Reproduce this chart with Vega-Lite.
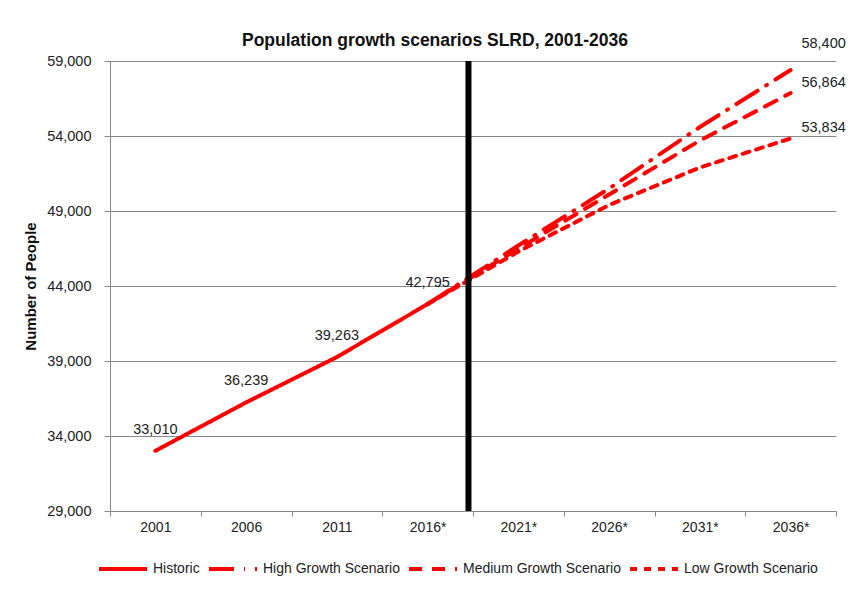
{
  "$schema": "https://vega.github.io/schema/vega-lite/v6.json",
  "autosize": "none",
  "width": 726,
  "height": 450,
  "padding": {"left": 110, "top": 61, "right": 18, "bottom": 84},
  "background": "white",
  "config": {
    "font": "Liberation Sans",
    "view": {"stroke": null},
    "axis": {"labelFont": "Liberation Sans", "labelFontSize": 14, "labelColor": "#222", "domainColor": "#888", "tickColor": "#888", "gridColor": "#888", "gridOpacity": 1}
  },
  "title": {"text": "Population growth scenarios SLRD, 2001-2036", "font": "Liberation Sans", "fontSize": 17.5, "fontWeight": "bold", "color": "#111", "frame": "group", "offset": 14, "dy": 27, "dx": -38},
  "data": {"values": [
    {"series": "Historic", "year": "2001", "value": 33010},
    {"series": "Historic", "year": "2006", "value": 36239},
    {"series": "Historic", "year": "2011", "value": 39263},
    {"series": "Historic", "year": "2016*", "value": 42795},
    {"series": "High Growth Scenario", "year": "2016*", "value": 42795},
    {"series": "High Growth Scenario", "year": "2021*", "value": 46700},
    {"series": "High Growth Scenario", "year": "2026*", "value": 50500},
    {"series": "High Growth Scenario", "year": "2031*", "value": 54600},
    {"series": "High Growth Scenario", "year": "2036*", "value": 58400},
    {"series": "Medium Growth Scenario", "year": "2016*", "value": 42795},
    {"series": "Medium Growth Scenario", "year": "2021*", "value": 46500},
    {"series": "Medium Growth Scenario", "year": "2026*", "value": 50100},
    {"series": "Medium Growth Scenario", "year": "2031*", "value": 53700},
    {"series": "Medium Growth Scenario", "year": "2036*", "value": 56864},
    {"series": "Low Growth Scenario", "year": "2016*", "value": 42795},
    {"series": "Low Growth Scenario", "year": "2021*", "value": 46300},
    {"series": "Low Growth Scenario", "year": "2026*", "value": 49400},
    {"series": "Low Growth Scenario", "year": "2031*", "value": 51900},
    {"series": "Low Growth Scenario", "year": "2036*", "value": 53834}
  ]},
  "encoding": {
    "x": {"field": "year", "type": "ordinal", "bandPosition": 0.5,
      "scale": {"type": "band", "domain": ["2001", "2006", "2011", "2016*", "2021*", "2026*", "2031*", "2036*"], "paddingInner": 0, "paddingOuter": 0},
      "axis": {"title": null, "labelAngle": 0, "tickBand": "extent", "tickSize": 5, "labelPadding": 4, "grid": false, "domainColor": "#888"}},
    "y": {"field": "value", "type": "quantitative",
      "scale": {"domain": [29000, 59000], "nice": false, "zero": false},
      "axis": {"title": "Number of People", "titleFont": "Liberation Sans", "titleFontSize": 15, "titleFontWeight": "bold", "titleColor": "#111", "titlePadding": 8, "values": [29000, 34000, 39000, 44000, 49000, 54000, 59000], "format": ",.0f", "labelFontSize": 14.5, "tickSize": 6, "labelPadding": 13, "grid": true}}
  },
  "layer": [
    {
      "mark": {"type": "line", "color": "#ff0000", "strokeWidth": 4, "strokeCap": "round"},
      "encoding": {
        "strokeDash": {"field": "series", "type": "nominal",
          "scale": {"domain": ["Historic", "High Growth Scenario", "Medium Growth Scenario", "Low Growth Scenario"], "range": [[1, 0], [25, 10, 1, 10], [13, 10], [7, 7]]},
          "legend": {"title": null, "orient": "none", "legendX": -13, "legendY": 482, "direction": "horizontal", "symbolType": "stroke", "symbolSize": 2304, "symbolStrokeWidth": 4, "symbolStrokeColor": "#ff0000", "labelFont": "Liberation Sans", "labelFontSize": 14, "labelColor": "#222", "labelOffset": 4, "labelLimit": 0, "columnPadding": 1}}
      }
    },
    {
      "transform": [{"filter": "datum.series == 'Historic'"}],
      "mark": {"type": "text", "dy": -21, "fontSize": 14.5, "color": "#222", "font": "Liberation Sans"},
      "encoding": {"text": {"field": "value", "type": "quantitative", "format": ","}}
    },
    {
      "transform": [{"filter": "datum.year == '2036*' && datum.series == 'High Growth Scenario'"}],
      "mark": {"type": "text", "dx": 33, "dy": -26, "fontSize": 14.5, "color": "#222", "font": "Liberation Sans"},
      "encoding": {"text": {"field": "value", "type": "quantitative", "format": ","}}
    },
    {
      "transform": [{"filter": "datum.year == '2036*' && datum.series != 'High Growth Scenario'"}],
      "mark": {"type": "text", "dx": 33, "dy": -10, "fontSize": 14.5, "color": "#222", "font": "Liberation Sans"},
      "encoding": {"text": {"field": "value", "type": "quantitative", "format": ","}}
    },
    {
      "data": {"values": [{"year": "2016*"}]},
      "mark": {"type": "rule", "color": "#000000", "strokeWidth": 6},
      "encoding": {"x": {"field": "year", "type": "ordinal", "bandPosition": 0.95}, "y": null}
    }
  ]
}
